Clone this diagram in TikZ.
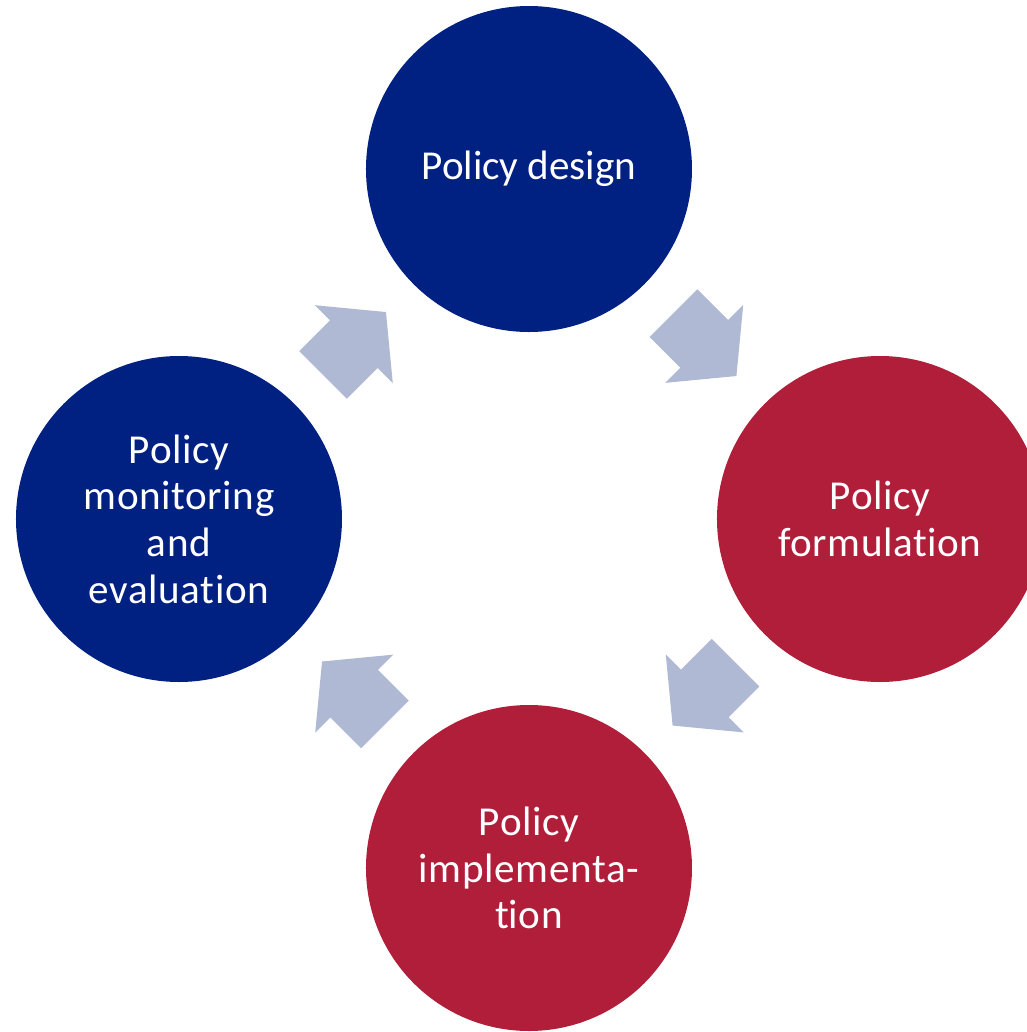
\documentclass[tikz,border=0pt]{standalone}
\usepackage{fontspec}
\setmainfont{Carlito}[RawFeature={-liga;-clig;-calt;-dlig}]
\newfontfamily\spacedfont{Carlito}[LetterSpace=1.5,RawFeature={-liga;-clig;-calt;-dlig}]
\usepackage{tikz}
\usetikzlibrary{calc,shapes.arrows}
\definecolor{policyblue}{RGB}{0,32,130}
\definecolor{policyred}{RGB}{176,30,58}
\definecolor{arrowgrey}{RGB}{176,185,211}
\tikzset{
  stage/.style={circle,minimum size=3.26cm,inner sep=0pt,align=center,text=white,
    font=\fontsize{11.7}{13.3}\selectfont},
  spaced/.style={font=\spacedfont\fontsize{11.7}{13.3}\selectfont},
  bluestage/.style={stage,fill=policyblue},
  redstage/.style={stage,fill=policyred},
  flowarrow/.style={single arrow,fill=arrowgrey,inner xsep=0pt,inner ysep=0.33cm,
    minimum height=0.89cm,single arrow head extend=0.215cm,single arrow tip angle=101,
    text height=0pt,text depth=0pt,anchor=tail}
}

\begin{document}
\begin{tikzpicture}

\useasboundingbox (-5.29,-5.13) rectangle (4.98,5.19);

\node [bluestage] (design) at (0,3.5) {Policy design};
\node [redstage,spaced] (formul) at (3.51,0) {Policy\\formula\kern0pt tion};
\node [redstage,spaced] (implem) at (0,-3.49) {Policy\\implementa-\\t\kern0pt ion};
\node [bluestage,spaced] (monit) at (-3.5,0) {Policy\\monitoring\\and\\evalua\kern0pt tion};

% arrows sit half way between the stages
\begin{scope}
\node [flowarrow,rotate=-45] (a1) at ($(design)!0.5!(formul)!0.445cm!(design)$) {};
\node [flowarrow,rotate=-135] (a2) at ($(formul)!0.5!(implem)!0.445cm!(formul)$) {};
\node [flowarrow,rotate=135] (a3) at ($(implem)!0.5!(monit)!0.445cm!(implem)$) {};
\node [flowarrow,rotate=45] (a4) at ($(monit)!0.5!(design)!0.445cm!(monit)$) {};
\end{scope}

\end{tikzpicture}
\end{document}
